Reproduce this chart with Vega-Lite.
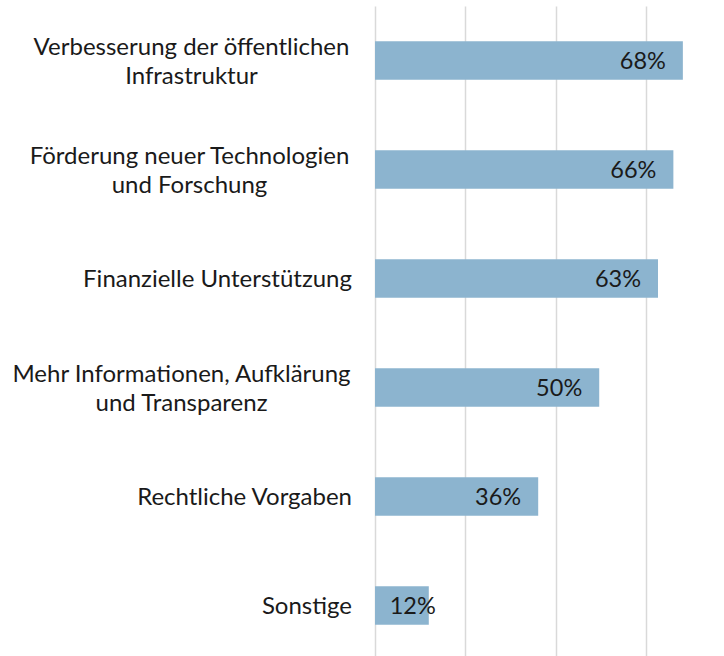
{
  "$schema": "https://vega.github.io/schema/vega-lite/v6.json",
  "width": 349,
  "height": 654,
  "autosize": "none",
  "padding": {"left": 375, "top": 6, "right": 0, "bottom": 0},
  "background": "white",
  "config": {"view": {"stroke": null}, "font": "Lato"},
  "data": {
    "values": [
      {"item": "Verbesserung der öffentlichen|Infrastruktur", "value": 0.681},
      {"item": "Förderung neuer Technologien|und Forschung", "value": 0.66},
      {"item": "Finanzielle Unterstützung", "value": 0.626},
      {"item": "Mehr Informationen, Aufklärung|und Transparenz", "value": 0.496},
      {"item": "Rechtliche Vorgaben", "value": 0.361},
      {"item": "Sonstige", "value": 0.119}
    ]
  },
  "encoding": {
    "y": {
      "field": "item",
      "type": "nominal",
      "sort": null,
      "scale": {"paddingInner": 0.646, "paddingOuter": 0.323},
      "axis": null
    }
  },
  "layer": [
    {
      "mark": {"type": "bar", "color": "#8cb4cf"},
      "encoding": {
        "x": {
          "field": "value",
          "type": "quantitative",
          "scale": {"domain": [0, 0.772], "nice": false},
          "axis": {
            "title": null,
            "labels": false,
            "ticks": false,
            "domain": false,
            "grid": true,
            "values": [0, 0.2, 0.4, 0.6],
            "gridColor": "#d9d9d9",
            "gridWidth": 1.5
          }
        }
      }
    },
    {
      "mark": {
        "type": "text",
        "align": "right",
        "baseline": "middle",
        "dy": 1,
        "dx": {"expr": "datum.value < 0.2 ? 7 : -17"},
        "font": "Lato",
        "fontSize": 23.5,
        "color": "#1a1a1a"
      },
      "encoding": {
        "x": {"field": "value", "type": "quantitative"},
        "text": {"field": "value", "type": "quantitative", "format": ".0%"}
      }
    },
    {
      "mark": {
        "type": "text",
        "align": {"expr": "indexof(datum.item, '|') >= 0 ? 'center' : 'right'"},
        "baseline": "middle",
        "lineBreak": "|",
        "lineHeight": 29,
        "dy": {"expr": "indexof(datum.item, '|') >= 0 ? -13 : 1"},
        "dx": {"expr": "datum.item == 'Verbesserung der öffentlichen|Infrastruktur' ? -183.5 : datum.item == 'Förderung neuer Technologien|und Forschung' ? -185.5 : datum.item == 'Mehr Informationen, Aufklärung|und Transparenz' ? -193.5 : -23"},
        "font": "Lato",
        "fontSize": 24,
        "color": "#1a1a1a"
      },
      "encoding": {
        "x": {"datum": 0, "type": "quantitative"},
        "text": {"field": "item", "type": "nominal"}
      }
    }
  ]
}
